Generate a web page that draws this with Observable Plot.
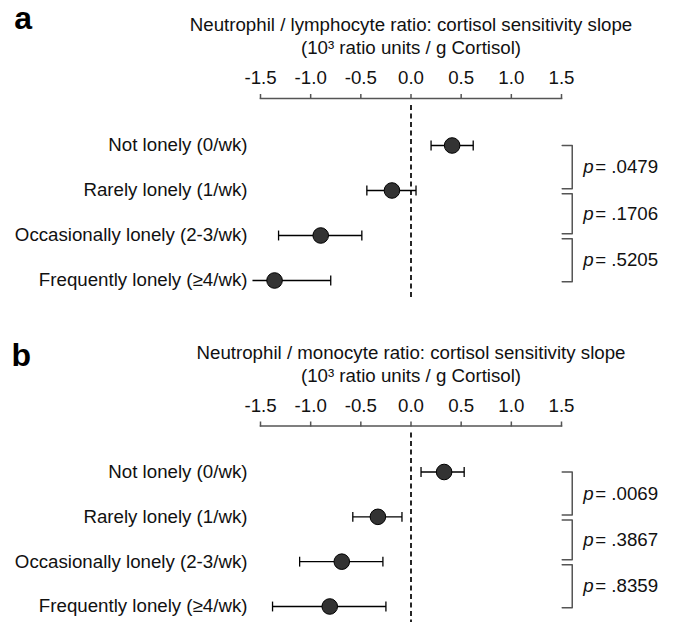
<!DOCTYPE html>
<html>
<head>
<meta charset="utf-8">
<script src="https://cdn.jsdelivr.net/npm/d3@7"></script>
<script src="https://cdn.jsdelivr.net/npm/@observablehq/plot@0.6"></script>
<style>
  body { margin: 0; background: #fff; }
  #chart svg { display: block; }
</style>
</head>
<body>
<div id="chart"></div>
<script>
// ---- data ----
const categories = [
  "Not lonely (0/wk)",
  "Rarely lonely (1/wk)",
  "Occasionally lonely (2-3/wk)",
  "Frequently lonely (\u22654/wk)"
];
const xTicks = [-1.5, -1.0, -0.5, 0.0, 0.5, 1.0, 1.5];

const titleA = ["Neutrophil / lymphocyte ratio: cortisol sensitivity slope", "(10\u00B3 ratio units / g Cortisol)"];
const estA = [0.41, -0.19, -0.90, -1.36];
const loA  = [0.20, -0.44, -1.32, -1.58];
const hiA  = [0.62,  0.05, -0.49, -0.80];
const pA   = [".0479", ".1706", ".5205"];

const titleB = ["Neutrophil / monocyte ratio: cortisol sensitivity slope", "(10\u00B3 ratio units / g Cortisol)"];
const estB = [0.33, -0.33, -0.69, -0.81];
const loB  = [0.10, -0.58, -1.11, -1.38];
const hiB  = [0.53, -0.09, -0.28, -0.25];
const pB   = [".0069", ".3867", ".8359"];

const FONT = "'Liberation Sans', Arial, Helvetica, sans-serif";
const FS = 18.7;

function panel({label, title, est, lo, hi, pvals, height, marginTop, marginBottom, insetTop, insetBottom, labelDx, labelDy}) {
  const rows = categories.map((c, i) => ({i, c, est: est[i], lo: lo[i], hi: hi[i]}));
  const capH = 0.11;
  // caps are only drawn for bounds that fall inside the axis range
  const caps = rows.flatMap(r => [{x: r.lo, i: r.i}, {x: r.hi, i: r.i}]).filter(d => d.x >= -1.5 && d.x <= 1.5);
  const bx0 = 1.507, bx1 = 1.607;
  const brackets = pvals.map((p, k) => ({
    k, p,
    top: k === 0 ? k : k + 0.07,
    bottom: k === pvals.length - 1 ? k + 1.03 : k + 0.96
  }));
  const bracketPts = brackets.flatMap(b => [
    {k: b.k, x: bx0, y: b.top}, {k: b.k, x: bx1, y: b.top},
    {k: b.k, x: bx1, y: b.bottom}, {k: b.k, x: bx0, y: b.bottom}
  ]);
  return Plot.plot({
    width: 680, height, marginTop, marginBottom, marginLeft: 260, marginRight: 119,
    style: {fontFamily: FONT, fontSize: FS + "px", color: "#111", background: "#fff"},
    x: {domain: [-1.5, 1.5], axis: null},
    y: {domain: [0, 3], reverse: true, insetTop, insetBottom, axis: null},
    marks: [
      Plot.frame({anchor: "top", stroke: "#555", strokeWidth: 1.5}),
      Plot.axisX({anchor: "top", ticks: xTicks, tickFormat: d => d.toFixed(1), tickSize: 5, tickPadding: 9.5,
                  stroke: "#555", strokeWidth: 1.5, fill: "#111", fontSize: FS, label: null}),
      Plot.text([title[0]], {frameAnchor: "top", lineAnchor: "middle", dy: -73, fill: "#111", fontSize: FS}),
      Plot.text([title[1]], {frameAnchor: "top", lineAnchor: "middle", dy: -50, fill: "#111", fontSize: FS}),
      Plot.text([label], {frameAnchor: "top-left", lineAnchor: "middle", dx: labelDx, dy: labelDy, textAnchor: "start",
                          fontWeight: "bold", fontSize: 32, fill: "#000"}),
      Plot.ruleX([0], {insetTop: 7, stroke: "#000", strokeWidth: 1.7, strokeDasharray: "5,3.5"}),
      Plot.axisY({anchor: "left", ticks: [0, 1, 2, 3], tickFormat: i => categories[i], tickSize: 0, tickPadding: 13,
                  fill: "#111", fontSize: FS, label: null}),
      Plot.link(rows, {x1: "lo", x2: "hi", y1: "i", y2: "i", stroke: "#000", strokeWidth: 1.3}),
      Plot.link(caps, {x1: "x", x2: "x", y1: d => d.i - capH, y2: d => d.i + capH, stroke: "#000", strokeWidth: 1.3}),
      Plot.dot(rows, {x: "est", y: "i", r: 7.8, fill: "#333", stroke: "#000", strokeWidth: 1}),
      Plot.line(bracketPts, {x: "x", y: "y", z: "k", stroke: "#555", strokeWidth: 1.5}),
      Plot.text(brackets, {x: () => bx1, y: d => (d.top + d.bottom) / 2, text: () => "p", dx: 11,
                           textAnchor: "start", fontStyle: "italic", fill: "#111", fontSize: FS}),
      Plot.text(brackets, {x: () => bx1, y: d => (d.top + d.bottom) / 2, text: d => "= " + d.p, dx: 23,
                           textAnchor: "start", fill: "#111", fontSize: FS})
    ]
  });
}

const chart = document.getElementById("chart");
chart.append(panel({label: "a", title: titleA, est: estA, lo: loA, hi: hiA, pvals: pA,
  height: 326, marginTop: 98, marginBottom: 28, insetTop: 47, insetBottom: 18, labelDx: -246.3, labelDy: -79.9}));
chart.append(panel({label: "b", title: titleB, est: estB, lo: loB, hi: hiB, pvals: pB,
  height: 296, marginTop: 99.5, marginBottom: 0, insetTop: 46, insetBottom: 16, labelDx: -249, labelDy: -70.7}));
</script>
</body>
</html>
